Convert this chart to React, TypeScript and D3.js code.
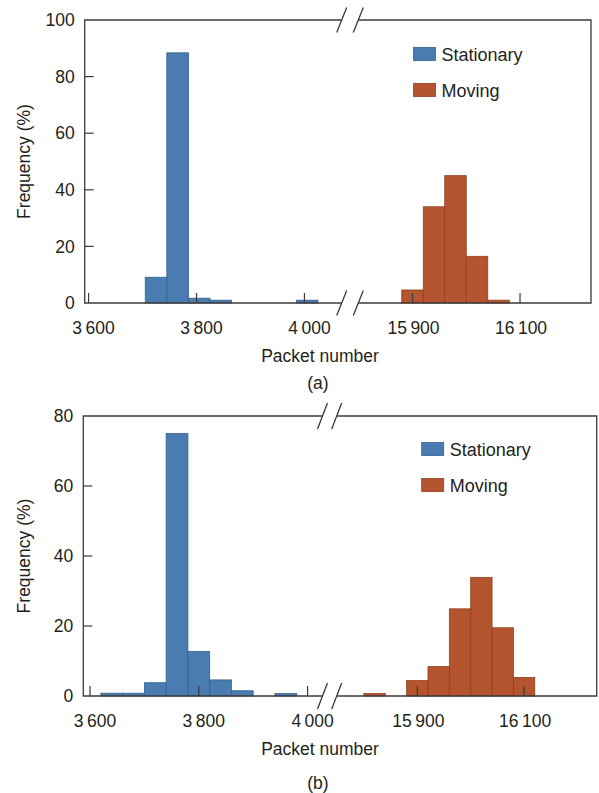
import React from 'react'
import * as d3 from 'd3'

// bin width of the histograms (packets)
const binWidth = 40

// panel (a)
const aStationaryStarts = [3705, 3745, 3785, 3825, 3985]
const aStationaryFreq = [9.1, 88.4, 1.7, 1.0, 1.0]
const aMovingStarts = [15880, 15920, 15960, 16000, 16040]
const aMovingFreq = [4.6, 34, 45, 16.5, 1.0]
const aYTicks = [0, 20, 40, 60, 80, 100]

// panel (b)
const bStationaryStarts = [3620, 3660, 3700, 3740, 3780, 3820, 3860, 3940]
const bStationaryFreq = [0.8, 0.8, 3.8, 75, 12.7, 4.6, 1.5, 0.7]
const bMovingStarts = [15800, 15880, 15920, 15960, 16000, 16040, 16080]
const bMovingFreq = [0.7, 4.4, 8.4, 24.9, 33.9, 19.5, 5.3]
const bYTicks = [0, 20, 40, 60, 80]

const leftTicks = [3600, 3800, 4000]
const rightTicks = [15900, 16100]
const tickLabel = (v: number) => d3.format(',')(v).replace(',', '\u2009')

const seriesNames = ['Stationary', 'Moving']
const fills = ['#4a7bb1', '#b5552f']
const strokes = ['#35608f', '#8f3f20']

const font = '"Liberation Sans", Arial, sans-serif'
const axisColor = '#3c3a3a'
const textColor = '#231f20'

type PanelProps = {
  top: number
  bottom: number
  left: number
  right: number
  leftDomain: [number, number]
  breakL: number
  breakR: number
  rightDomain: [number, number]
  yMax: number
  yTicks: number[]
  stationary: [number[], number[]]
  moving: [number[], number[]]
  legendX: number
  legendY: number
  caption: string
  captionY: number
  ySlash: number
}

function Panel(p: PanelProps) {
  const xl = d3.scaleLinear().domain(p.leftDomain).range([p.left, p.breakL])
  const xr = d3.scaleLinear().domain(p.rightDomain).range([p.breakR, p.right])
  const y = d3.scaleLinear().domain([0, p.yMax]).range([p.bottom, p.top])

  const bars = (starts: number[], vals: number[], x: d3.ScaleLinear<number, number>, i: number) =>
    starts.map((s, k) => (
      <rect key={`${i}-${k}`} x={x(s)} y={y(vals[k])} width={x(s + binWidth) - x(s)}
        height={y(0) - y(vals[k])} fill={fills[i]} stroke={strokes[i]} strokeWidth={0.8} />
    ))

  const slash = (cx: number, cy: number, key: string) => (
    <line key={key} x1={cx - 5} y1={cy + p.ySlash} x2={cx + 5} y2={cy - p.ySlash}
      stroke={axisColor} strokeWidth={1.3} />
  )

  return (
    <g>
      {bars(p.stationary[0], p.stationary[1], xl, 0)}
      {bars(p.moving[0], p.moving[1], xr, 1)}

      {/* frame, broken between the two segments */}
      <path d={`M${p.breakL},${p.top}H${p.left}V${p.bottom}H${p.breakL}`}
        fill="none" stroke={axisColor} strokeWidth={1.3} />
      <path d={`M${p.breakR},${p.top}H${p.right}V${p.bottom}H${p.breakR}`}
        fill="none" stroke={axisColor} strokeWidth={1.3} />
      {[p.top, p.bottom].map(yy => [slash(p.breakL, yy, `l${yy}`), slash(p.breakR, yy, `r${yy}`)])}

      {/* y axis */}
      {p.yTicks.map(t => (
        <g key={`y${t}`}>
          {t > 0 && t < p.yMax && <line x1={p.left} x2={p.left + 9} y1={y(t)} y2={y(t)} stroke={axisColor} strokeWidth={1.2} />}
          <text x={p.left - 10} y={y(t)} dy="0.35em" textAnchor="end" fontSize={17.5} fill={textColor}>{t}</text>
        </g>
      ))}
      <text transform={`translate(24,${(p.top + p.bottom) / 2}) rotate(-90)`} textAnchor="middle"
        dy="0.35em" fontSize={17.5} fill={textColor}>Frequency (%)</text>

      {/* x axis */}
      {leftTicks.map(t => (
        <g key={`xl${t}`}>
          <line x1={xl(t)} x2={xl(t)} y1={p.bottom} y2={p.bottom - 10} stroke={axisColor} strokeWidth={1.2} />
          <text x={xl(t) + 5} y={p.bottom + 25} dy="0.35em" textAnchor="middle" fontSize={17.5} fill={textColor}>{tickLabel(t)}</text>
        </g>
      ))}
      {rightTicks.map(t => (
        <g key={`xr${t}`}>
          <line x1={xr(t)} x2={xr(t)} y1={p.bottom} y2={p.bottom - 10} stroke={axisColor} strokeWidth={1.2} />
          <text x={xr(t) + 1} y={p.bottom + 25} dy="0.35em" textAnchor="middle" fontSize={17.5} fill={textColor}>{tickLabel(t)}</text>
        </g>
      ))}
      <text x={320} y={p.bottom + 53} dy="0.35em" textAnchor="middle" fontSize={17.5} fill={textColor}>Packet number</text>
      <text x={318} y={p.captionY} dy="0.35em" textAnchor="middle" fontSize={17.5} fill={textColor}>{p.caption}</text>

      {/* legend */}
      {seriesNames.map((name, i) => (
        <g key={name} transform={`translate(${p.legendX},${p.legendY + i * 36})`}>
          <rect x={0} y={-7} width={22} height={13} fill={fills[i]} stroke={strokes[i]} strokeWidth={0.8} />
          <text x={28} y={0} dy="0.35em" fontSize={18} fill={textColor}>{name}</text>
        </g>
      ))}
    </g>
  )
}

export default function App() {
  return (
    <svg width={599} height={793} style={{ position: 'absolute', left: 0, top: 0, fontFamily: font }}>
      <rect width={599} height={793} fill="#ffffff" />
      <Panel top={20} bottom={303} left={84.7} right={591}
        leftDomain={[3592.8, 4069.1]} breakL={341.7} breakR={358.3} rightDomain={[15799.2, 16232]}
        yMax={100} yTicks={aYTicks}
        stationary={[aStationaryStarts, aStationaryFreq]} moving={[aMovingStarts, aMovingFreq]}
        legendX={413.5} legendY={54.5} caption="(a)" captionY={383} ySlash={12.5} />
      <Panel top={416} bottom={696} left={83.3} right={596.7}
        leftDomain={[3587.7, 4027.4]} breakL={322.5} breakR={336.7} rightDomain={[15749, 16236]}
        yMax={80} yTicks={bYTicks}
        stationary={[bStationaryStarts, bStationaryFreq]} moving={[bMovingStarts, bMovingFreq]}
        legendX={421.7} legendY={449.5} caption="(b)" captionY={783} ySlash={13} />
    </svg>
  )
}
